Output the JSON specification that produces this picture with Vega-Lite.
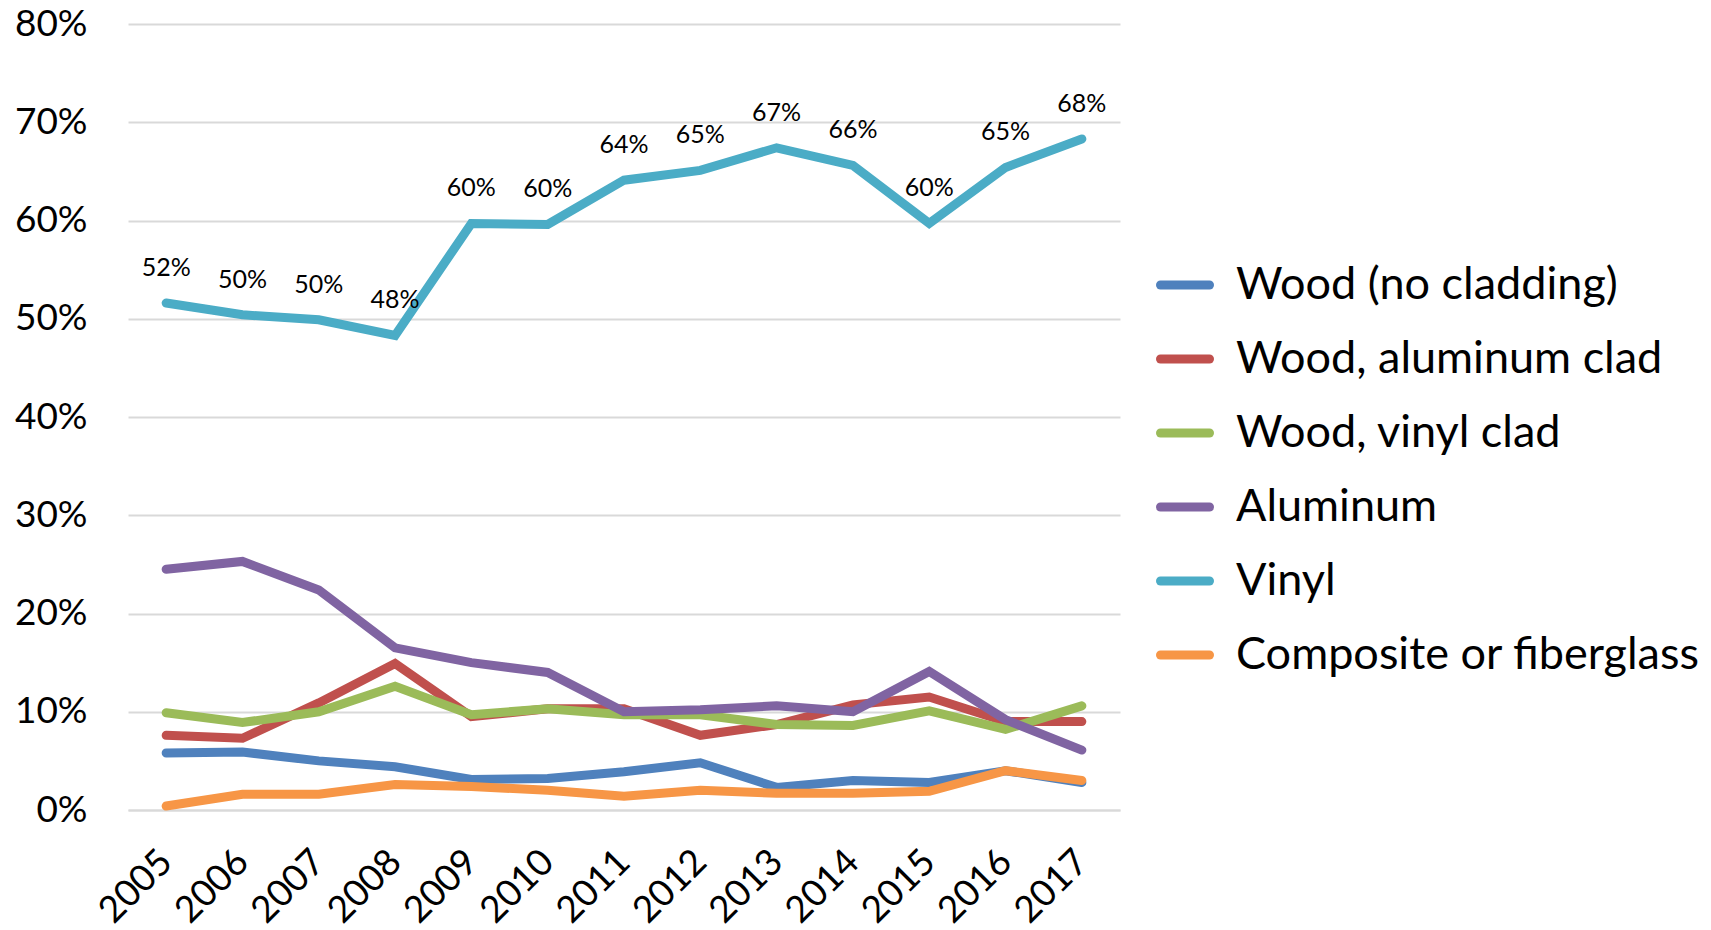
{
  "$schema": "https://vega.github.io/schema/vega-lite/v6.json",
  "description": "Window frame material share by year, 2005-2017",
  "autosize": {"type": "none"},
  "padding": {"left": 128, "top": 24, "right": 591, "bottom": 120},
  "width": 992,
  "height": 786,
  "config": {
    "view": {"stroke": null},
    "font": "Lato",
    "axis": {"labelFont": "Lato", "labelColor": "#000000"},
    "legend": {"labelFont": "Lato", "labelColor": "#000000"}
  },
  "data": {
    "values": [
      {"year": "2005", "type": "Wood (no cladding)", "share": 0.058},
      {"year": "2006", "type": "Wood (no cladding)", "share": 0.059},
      {"year": "2007", "type": "Wood (no cladding)", "share": 0.050},
      {"year": "2008", "type": "Wood (no cladding)", "share": 0.044},
      {"year": "2009", "type": "Wood (no cladding)", "share": 0.031},
      {"year": "2010", "type": "Wood (no cladding)", "share": 0.032},
      {"year": "2011", "type": "Wood (no cladding)", "share": 0.039},
      {"year": "2012", "type": "Wood (no cladding)", "share": 0.048},
      {"year": "2013", "type": "Wood (no cladding)", "share": 0.023},
      {"year": "2014", "type": "Wood (no cladding)", "share": 0.030},
      {"year": "2015", "type": "Wood (no cladding)", "share": 0.028},
      {"year": "2016", "type": "Wood (no cladding)", "share": 0.040},
      {"year": "2017", "type": "Wood (no cladding)", "share": 0.028},
      {"year": "2005", "type": "Wood, aluminum clad", "share": 0.076},
      {"year": "2006", "type": "Wood, aluminum clad", "share": 0.073},
      {"year": "2007", "type": "Wood, aluminum clad", "share": 0.109},
      {"year": "2008", "type": "Wood, aluminum clad", "share": 0.149},
      {"year": "2009", "type": "Wood, aluminum clad", "share": 0.095},
      {"year": "2010", "type": "Wood, aluminum clad", "share": 0.103},
      {"year": "2011", "type": "Wood, aluminum clad", "share": 0.103},
      {"year": "2012", "type": "Wood, aluminum clad", "share": 0.076},
      {"year": "2013", "type": "Wood, aluminum clad", "share": 0.087},
      {"year": "2014", "type": "Wood, aluminum clad", "share": 0.107},
      {"year": "2015", "type": "Wood, aluminum clad", "share": 0.115},
      {"year": "2016", "type": "Wood, aluminum clad", "share": 0.090},
      {"year": "2017", "type": "Wood, aluminum clad", "share": 0.090},
      {"year": "2005", "type": "Wood, vinyl clad", "share": 0.099},
      {"year": "2006", "type": "Wood, vinyl clad", "share": 0.089},
      {"year": "2007", "type": "Wood, vinyl clad", "share": 0.100},
      {"year": "2008", "type": "Wood, vinyl clad", "share": 0.126},
      {"year": "2009", "type": "Wood, vinyl clad", "share": 0.097},
      {"year": "2010", "type": "Wood, vinyl clad", "share": 0.103},
      {"year": "2011", "type": "Wood, vinyl clad", "share": 0.097},
      {"year": "2012", "type": "Wood, vinyl clad", "share": 0.097},
      {"year": "2013", "type": "Wood, vinyl clad", "share": 0.087},
      {"year": "2014", "type": "Wood, vinyl clad", "share": 0.086},
      {"year": "2015", "type": "Wood, vinyl clad", "share": 0.101},
      {"year": "2016", "type": "Wood, vinyl clad", "share": 0.082},
      {"year": "2017", "type": "Wood, vinyl clad", "share": 0.106},
      {"year": "2005", "type": "Aluminum", "share": 0.245},
      {"year": "2006", "type": "Aluminum", "share": 0.253},
      {"year": "2007", "type": "Aluminum", "share": 0.224},
      {"year": "2008", "type": "Aluminum", "share": 0.165},
      {"year": "2009", "type": "Aluminum", "share": 0.150},
      {"year": "2010", "type": "Aluminum", "share": 0.140},
      {"year": "2011", "type": "Aluminum", "share": 0.100},
      {"year": "2012", "type": "Aluminum", "share": 0.102},
      {"year": "2013", "type": "Aluminum", "share": 0.106},
      {"year": "2014", "type": "Aluminum", "share": 0.100},
      {"year": "2015", "type": "Aluminum", "share": 0.141},
      {"year": "2016", "type": "Aluminum", "share": 0.092},
      {"year": "2017", "type": "Aluminum", "share": 0.061},
      {"year": "2005", "type": "Vinyl", "share": 0.516},
      {"year": "2006", "type": "Vinyl", "share": 0.504},
      {"year": "2007", "type": "Vinyl", "share": 0.499},
      {"year": "2008", "type": "Vinyl", "share": 0.483},
      {"year": "2009", "type": "Vinyl", "share": 0.597},
      {"year": "2010", "type": "Vinyl", "share": 0.596},
      {"year": "2011", "type": "Vinyl", "share": 0.641},
      {"year": "2012", "type": "Vinyl", "share": 0.651},
      {"year": "2013", "type": "Vinyl", "share": 0.674},
      {"year": "2014", "type": "Vinyl", "share": 0.656},
      {"year": "2015", "type": "Vinyl", "share": 0.597},
      {"year": "2016", "type": "Vinyl", "share": 0.654},
      {"year": "2017", "type": "Vinyl", "share": 0.683},
      {"year": "2005", "type": "Composite or fiberglass", "share": 0.004},
      {"year": "2006", "type": "Composite or fiberglass", "share": 0.016},
      {"year": "2007", "type": "Composite or fiberglass", "share": 0.016},
      {"year": "2008", "type": "Composite or fiberglass", "share": 0.026},
      {"year": "2009", "type": "Composite or fiberglass", "share": 0.024},
      {"year": "2010", "type": "Composite or fiberglass", "share": 0.020},
      {"year": "2011", "type": "Composite or fiberglass", "share": 0.014},
      {"year": "2012", "type": "Composite or fiberglass", "share": 0.020},
      {"year": "2013", "type": "Composite or fiberglass", "share": 0.017},
      {"year": "2014", "type": "Composite or fiberglass", "share": 0.017},
      {"year": "2015", "type": "Composite or fiberglass", "share": 0.019},
      {"year": "2016", "type": "Composite or fiberglass", "share": 0.040},
      {"year": "2017", "type": "Composite or fiberglass", "share": 0.030}
    ]
  },
  "encoding": {
    "x": {
      "field": "year",
      "type": "ordinal",
      "scale": {"type": "point", "padding": 0.5},
      "axis": {
        "title": null,
        "labelAngle": -45,
        "labelAlign": "right",
        "labelBaseline": "middle",
        "labelFontSize": 37,
        "labelPadding": 46,
        "ticks": false,
        "domainColor": "#D9D9D9",
        "domainWidth": 2,
        "grid": false
      }
    },
    "y": {
      "field": "share",
      "type": "quantitative",
      "scale": {"domain": [0, 0.8], "nice": false},
      "axis": {
        "title": null,
        "format": ".0%",
        "values": [0, 0.1, 0.2, 0.3, 0.4, 0.5, 0.6, 0.7, 0.8],
        "labelFontSize": 37,
        "labelPadding": 41,
        "ticks": false,
        "domain": false,
        "gridColor": "#D9D9D9",
        "gridWidth": 2
      }
    }
  },
  "layer": [
    {
      "mark": {"type": "line", "strokeWidth": 9, "strokeCap": "round", "strokeJoin": "miter"},
      "encoding": {
        "color": {
          "field": "type",
          "type": "nominal",
          "scale": {
            "domain": ["Wood (no cladding)", "Wood, aluminum clad", "Wood, vinyl clad", "Aluminum", "Vinyl", "Composite or fiberglass"],
            "range": ["#4F81BD", "#C0504D", "#9BBB59", "#8064A2", "#4BACC6", "#F79646"]
          },
          "legend": {
            "title": null,
            "orient": "none",
            "legendX": 1028,
            "legendY": 232,
            "labelFontSize": 45,
            "labelOffset": 22,
            "symbolSize": 2400,
            "symbolStrokeWidth": 9,
            "rowPadding": 22,
            "labelLimit": 600,
            "encode": {"symbols": {"update": {"strokeCap": {"value": "round"}}}}
          }
        }
      }
    },
    {
      "transform": [{"filter": "datum.type === 'Vinyl'"}],
      "mark": {"type": "text", "dy": -35, "fontSize": 25, "color": "#000000"},
      "encoding": {
        "text": {"field": "share", "type": "quantitative", "format": ".0%"}
      }
    }
  ]
}
